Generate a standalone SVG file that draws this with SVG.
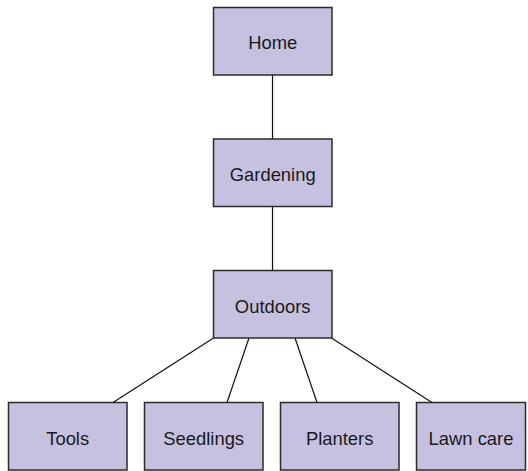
<svg xmlns="http://www.w3.org/2000/svg" width="528" height="471" viewBox="0 0 528 471">
<style>
.box{fill:#c6c1e1;stroke:#2b2b2b;stroke-width:1.5}
.lbl{font-family:"Liberation Sans",Arial,sans-serif;font-size:18.4px;fill:#1a1a1a;text-anchor:middle}
.conn line{stroke:#111;stroke-width:1.2}
</style>
<rect width="528" height="471" fill="#fff"/>
<g id="connectors" class="conn">
<line x1="272.5" y1="75" x2="272.5" y2="139"/>
<line x1="272.5" y1="206.5" x2="272.5" y2="270.5"/>
<line x1="213.5" y1="338" x2="113" y2="402.5"/>
<line x1="249" y1="338" x2="227" y2="402.5"/>
<line x1="295" y1="338" x2="317" y2="402.5"/>
<line x1="331.5" y1="338" x2="432" y2="402.5"/>
</g>
<g id="home"><rect class="box" x="213.5" y="7.5" width="118.5" height="67.5"/><text class="lbl" x="272.7" y="49.3">Home</text></g>
<g id="gardening"><rect class="box" x="213.5" y="139" width="118.5" height="67.5"/><text class="lbl" x="272.7" y="181.3">Gardening</text></g>
<g id="outdoors"><rect class="box" x="213.5" y="270.5" width="118.5" height="67.5"/><text class="lbl" x="272.7" y="312.5">Outdoors</text></g>
<g id="tools"><rect class="box" x="8.5" y="402.5" width="118.5" height="67.5"/><text class="lbl" x="67.7" y="444.5">Tools</text></g>
<g id="seedlings"><rect class="box" x="144.5" y="402.5" width="118.5" height="67.5"/><text class="lbl" x="203.7" y="444.5">Seedlings</text></g>
<g id="planters"><rect class="box" x="280.5" y="402.5" width="118.5" height="67.5"/><text class="lbl" x="339.7" y="444.5">Planters</text></g>
<g id="lawncare"><rect class="box" x="416.5" y="402.5" width="109" height="67.5"/><text class="lbl" x="471" y="444.5">Lawn care</text></g>
</svg>
